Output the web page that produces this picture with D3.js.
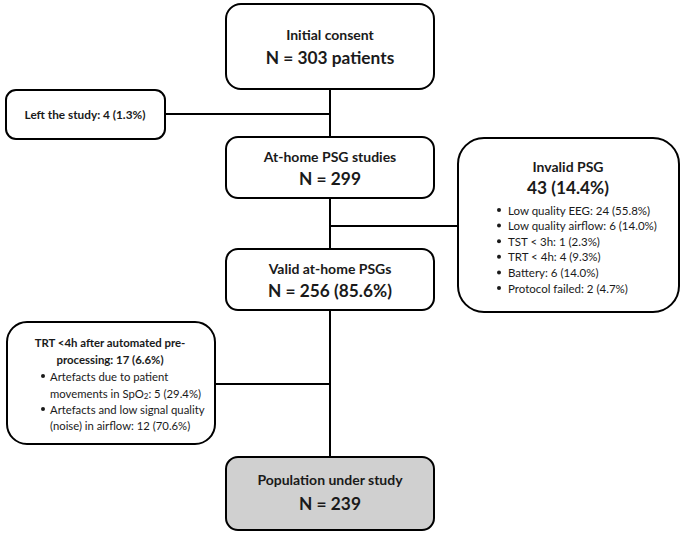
<!DOCTYPE html>
<html>
<head>
<meta charset="utf-8">
<script src="https://cdn.jsdelivr.net/npm/d3@7"></script>
<style>
  body { margin: 0; background: #fff; }
  text { font-family: Lato, "Open Sans", sans-serif; fill: #1a1a1a; }
</style>
</head>
<body>
<svg id="chart"></svg>
<script>
// main flow: titles and counts
var mainTitles = ["Initial consent", "At-home PSG studies", "Valid at-home PSGs", "Population under study"];
var mainCounts = [303, 299, 256, 239];

// side boxes
var leftStudy = 4;
var invalidReasons = ["Low quality EEG", "Low quality airflow", "TST < 3h", "TRT < 4h", "Battery", "Protocol failed"];
var invalidCounts = [24, 6, 1, 4, 6, 2];
var trtCount = 17;
var trtCounts = [5, 12];

var pct = function(a, b) { return d3.format(".1f")(100 * a / b) + "%"; };

var screen = {width: 685, height: 533};
var svg = d3.select("#chart").attr("width", screen.width).attr("height", screen.height);

// pixel scales for the flow layout
var x = d3.scaleLinear().domain([0, screen.width]).range([0, screen.width]);
var y = d3.scaleLinear().domain([0, screen.height]).range([0, screen.height]);

var boxes = {
  consent: {x0: 226, x1: 434, y0: 4, y1: 89, r: 15},
  left:    {x0: 6, x1: 165, y0: 90, y1: 139, r: 10},
  home:    {x0: 226, x1: 434, y0: 137, y1: 198, r: 12},
  invalid: {x0: 458, x1: 679, y0: 138, y1: 312, r: 26},
  valid:   {x0: 226, x1: 434, y0: 249, y1: 310, r: 12},
  trt:     {x0: 7, x1: 215, y0: 322, y1: 444, r: 20},
  pop:     {x0: 226, x1: 434, y0: 457, y1: 530, r: 12}
};
var spineX = 330;

var lines = svg.append("g").attr("stroke", "#000").attr("stroke-width", 2);
// spine
lines.append("line").attr("x1", x(spineX)).attr("x2", x(spineX))
  .attr("y1", y(boxes.consent.y1)).attr("y2", y(boxes.pop.y0));
// branches
[[boxes.left.x1, 114], [boxes.invalid.x0, 226], [boxes.trt.x1, 384]].forEach(function(b) {
  lines.append("line").attr("x1", x(spineX)).attr("x2", x(b[0]))
    .attr("y1", y(b[1])).attr("y2", y(b[1]));
});

var drawBox = function(b, fill) {
  svg.append("rect")
    .attr("x", x(b.x0)).attr("y", y(b.y0))
    .attr("width", x(b.x1) - x(b.x0)).attr("height", y(b.y1) - y(b.y0))
    .attr("rx", b.r).attr("ry", b.r)
    .attr("fill", fill || "#fff").attr("stroke", "#000").attr("stroke-width", 2);
};

var label = function(str, cx, cy, size, weight, anchor) {
  return svg.append("text")
    .attr("x", x(cx)).attr("y", y(cy))
    .attr("text-anchor", anchor || "middle")
    .attr("dominant-baseline", "central")
    .attr("font-size", size)
    .attr("font-weight", weight || "normal")
    .text(str);
};

var bullet = function(cx, cy) {
  svg.append("circle").attr("cx", x(cx)).attr("cy", y(cy)).attr("r", 2).attr("fill", "#1a1a1a");
};

Object.keys(boxes).forEach(function(k) { drawBox(boxes[k], k === "pop" ? "#d0d0d0" : "#fff"); });

// main boxes
var mainN = [
  "N = " + mainCounts[0] + " patients",
  "N = " + mainCounts[1],
  "N = " + mainCounts[2] + " (" + pct(mainCounts[2], mainCounts[1]) + ")",
  "N = " + mainCounts[3]
];
var titleY = [34, 156, 268, 479];
var nY = [57, 178, 290, 503];
mainTitles.forEach(function(tt, i) {
  label(tt, spineX, titleY[i], 14, "bold");
  label(mainN[i], spineX, nY[i], 17.3, "bold");
});

// left the study
label("Left the study: " + leftStudy + " (" + pct(leftStudy, mainCounts[0]) + ")", 85, 114, 11.8, "bold");

// invalid PSG
var invalidTotal = d3.sum(invalidCounts);
label("Invalid PSG", 568, 166, 14, "bold");
label(invalidTotal + " (" + pct(invalidTotal, mainCounts[1]) + ")", 568, 187, 17.3, "bold");
invalidReasons.forEach(function(r, i) {
  var yy = 210 + i * 15.6;
  bullet(499, yy);
  label(r + ": " + invalidCounts[i] + " (" + pct(invalidCounts[i], invalidTotal) + ")", 508, yy, 11.5, "normal", "start");
});

// TRT box
label("TRT <4h after automated pre-", 110, 342, 11.4, "bold");
label("processing: " + trtCount + " (" + pct(trtCount, mainCounts[2]) + ")", 110, 359, 11.4, "bold");
bullet(43, 376);
label("Artefacts due to patient", 50, 376, 11.3, "normal", "start");
var t = label("movements in SpO", 50, 393, 11.3, "normal", "start");
t.append("tspan").attr("font-size", 8).attr("dy", 3).text("2");
t.append("tspan").attr("dy", -3).text(": " + trtCounts[0] + " (" + pct(trtCounts[0], trtCount) + ")");
bullet(43, 409);
label("Artefacts and low signal quality", 50, 409, 11.3, "normal", "start");
label("(noise) in airflow: " + trtCounts[1] + " (" + pct(trtCounts[1], trtCount) + ")", 50, 425, 11.3, "normal", "start");
</script>
</body>
</html>
